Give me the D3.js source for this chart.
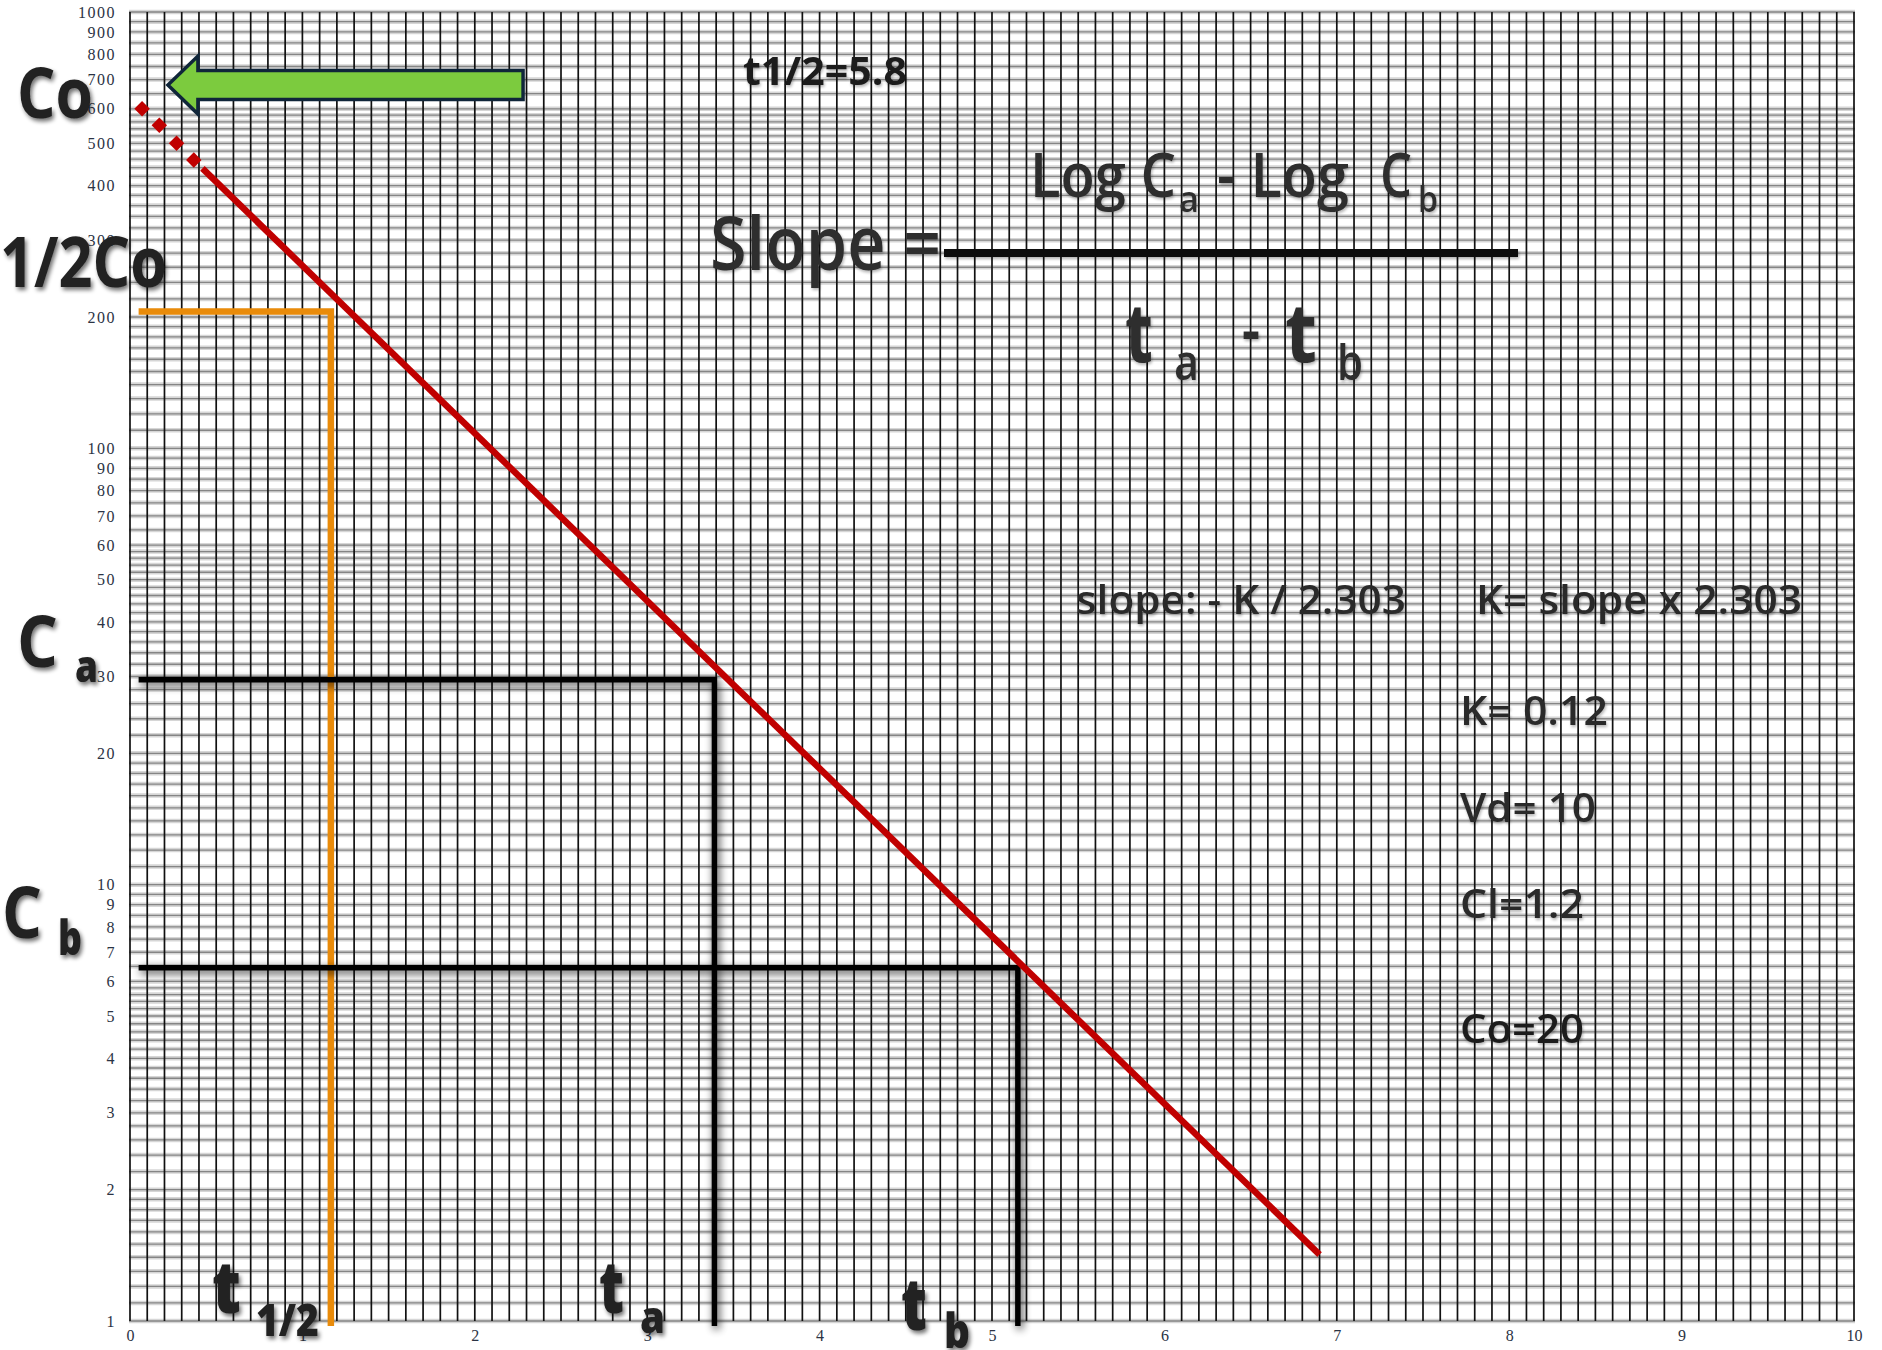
<!DOCTYPE html>
<html>
<head>
<meta charset="utf-8">
<script src="https://cdn.jsdelivr.net/npm/d3@7"></script>
<style>
  html, body { margin: 0; padding: 0; background: #fff; }
  svg { display: block; }
</style>
</head>
<body>
<svg id="chart" width="1882" height="1350"></svg>
<script>
// ---- data -------------------------------------------------------------
// time axis (h) and concentration axis (log scale) labels
const timeTicks = [0, 1, 2, 3, 4, 5, 6, 7, 8, 9, 10];
const concTicks = [1, 2, 3, 4, 5, 6, 7, 8, 9, 10, 20, 30, 40, 50, 60, 70, 80, 90,
                   100, 200, 300, 400, 500, 600, 700, 800, 900, 1000];
// rulings of the semi-log paper inside one decade
const gridMantissas = [1, 1.1, 1.2, 1.3, 1.4, 1.5, 1.6, 1.7, 1.8, 1.9,
                       2, 2.2, 2.4, 2.6, 2.8, 3, 3.2, 3.4, 3.6, 3.8,
                       4, 4.2, 4.4, 4.6, 4.8, 5, 5.2, 5.4, 5.6, 5.8,
                       6, 6.5, 7, 7.5, 8, 8.5, 9, 9.5];
const gridDecades = [1, 10, 100];
const gridTimeStep = 0.1;
// back-extrapolation towards time zero (dotted part)
const extrapTime = [0.07, 0.17, 0.27, 0.37];
const extrapConc = [600, 550, 500, 458];
// elimination line
const fitTime = [0.42, 6.9];
const fitConc = [438, 1.42];
// reading guides
const guideStartTime = 0.05;
const halfGuide = { t: 1.165, c: 206 };
const guideA = { t: 3.39, c: 29.5 };
const guideB = { t: 5.15, c: 6.45 };
// arrow pointing at Co
const arrowTip = { t: 0.22, c: 680 };
const arrowTailTime = 2.28;

// ---- layout -----------------------------------------------------------
const svg = d3.select("#chart");
const x = d3.scaleLinear().domain([0, 10]).range([130, 1854]);
const y = d3.scaleLog().domain([1, 1000]).range([1321, 12]);

const defs = svg.append("defs");
function shadowFilter(id, blur, dx, dy, alpha) {
  const f = defs.append("filter").attr("id", id)
    .attr("filterUnits", "userSpaceOnUse")
    .attr("x", 0).attr("y", 0).attr("width", 1882).attr("height", 1350);
  f.append("feGaussianBlur").attr("in", "SourceAlpha").attr("stdDeviation", blur);
  f.append("feOffset").attr("dx", dx).attr("dy", dy).attr("result", "ob");
  f.append("feComponentTransfer").append("feFuncA").attr("type", "linear").attr("slope", alpha);
  const m = f.append("feMerge");
  m.append("feMergeNode");
  m.append("feMergeNode").attr("in", "SourceGraphic");
}
shadowFilter("lineShadow", 4.5, 2, 3, 0.8);
shadowFilter("textShadow", 2.2, 2, 3, 0.55);
shadowFilter("softShadow", 1.5, 1, 2, 0.3);

// ---- grid -------------------------------------------------------------
const hValues = gridDecades.flatMap(d => gridMantissas.map(m => +(m * d).toPrecision(6)))
  .concat([1000]);
const vValues = d3.range(0, 10 + 1e-9, gridTimeStep).map(v => +v.toFixed(1));

const grid = svg.append("g");
grid.append("g").selectAll("line").data(hValues).join("line")
  .attr("x1", x(0) - 1).attr("x2", x(10) + 1)
  .attr("y1", d => y(d)).attr("y2", d => y(d))
  .attr("stroke", "#d6d6d6").attr("stroke-width", 4.5);
grid.append("g").selectAll("line").data(hValues).join("line")
  .attr("x1", x(0) - 1).attr("x2", x(10) + 1)
  .attr("y1", d => y(d)).attr("y2", d => y(d))
  .attr("stroke", "#858585").attr("stroke-width", 1.3);
grid.append("g").selectAll("line").data(vValues).join("line")
  .attr("x1", d => x(d)).attr("x2", d => x(d))
  .attr("y1", y(1000)).attr("y2", y(1))
  .attr("stroke", "#111").attr("stroke-width", 1.7);

// ---- axes -------------------------------------------------------------
const axisFont = "'Liberation Serif', 'DejaVu Serif', serif";
svg.append("g")
  .attr("transform", `translate(${x(0)},0)`)
  .call(d3.axisLeft(y).tickValues(concTicks).tickFormat(d3.format("d")).tickSize(0).tickPadding(14))
  .call(g => g.select(".domain").remove())
  .attr("font-family", axisFont).attr("font-size", 16)
  .selectAll("text").attr("fill", "#2b3344").attr("letter-spacing", "1.5px");

svg.append("g")
  .attr("transform", `translate(0,${y(1)})`)
  .call(d3.axisBottom(x).tickValues(timeTicks).tickFormat(d3.format("d")).tickSize(0).tickPadding(9))
  .call(g => g.select(".domain").remove())
  .attr("font-family", axisFont).attr("font-size", 16)
  .selectAll("text").attr("fill", "#2b3344");

// ---- reading guides ---------------------------------------------------
const guides = svg.append("g");
guides.append("path")
  .attr("d", `M${x(guideStartTime)},${y(halfGuide.c)}H${x(halfGuide.t)}V${y(1) + 5}`)
  .attr("fill", "none").attr("stroke", "#e98b0a").attr("stroke-width", 6.5);
const blackGuides = guides.append("g").attr("filter", "url(#lineShadow)");
[guideA, guideB].forEach(gd => {
  blackGuides.append("path")
    .attr("d", `M${x(guideStartTime)},${y(gd.c)}H${x(gd.t)}V${y(1) + 5}`)
    .attr("fill", "none").attr("stroke", "#050505").attr("stroke-width", 5.5);
});

// ---- elimination line -------------------------------------------------
const fit = fitTime.map((t, i) => ({ t, c: fitConc[i] }));
svg.append("path").datum(fit)
  .attr("d", d3.line().x(d => x(d.t)).y(d => y(d.c)))
  .attr("fill", "none").attr("stroke", "#c00000").attr("stroke-width", 6.5);

const extrap = extrapTime.map((t, i) => ({ t, c: extrapConc[i] }));
svg.append("g").selectAll("path").data(extrap).join("path")
  .attr("d", d3.symbol(d3.symbolSquare, 120))
  .attr("transform", d => `translate(${x(d.t)},${y(d.c)}) rotate(45)`)
  .attr("fill", "#c00000");

// ---- arrow ------------------------------------------------------------
const ax0 = x(arrowTip.t), ay = y(arrowTip.c), ax1 = x(arrowTailTime);
const headLen = 30, headHalf = 29, bodyHalf = 14.5;
svg.append("path")
  .attr("d", `M${ax0},${ay}L${ax0 + headLen},${ay - headHalf}V${ay - bodyHalf}H${ax1}` +
             `V${ay + bodyHalf}H${ax0 + headLen}V${ay + headHalf}Z`)
  .attr("fill", "#7ccb3e").attr("stroke", "#10263a").attr("stroke-width", 3.5)
  .attr("stroke-linejoin", "miter");

// ---- text -------------------------------------------------------------
const sans = "'Open Sans', 'Noto Sans', sans-serif";
function label(parent, str, px, py, size, weight, width, opts = {}) {
  const t = parent.append("text")
    .attr("x", px).attr("y", py)
    .attr("font-family", sans).attr("font-size", size).attr("font-weight", weight)
    .attr("fill", opts.fill || "#232323")
    .attr("xml:space", "preserve")
    .text(str);
  if (width) t.attr("textLength", width).attr("lengthAdjust", "spacingAndGlyphs");
  return t;
}

const big = svg.append("g").attr("filter", "url(#textShadow)");
label(big, "Co", 17, 118, 70, 700, 76);
label(big, "1/2Co", 0, 287, 70, 700, 167);
label(big, "C", 17, 667, 72, 700, 41);
label(big, "a", 75, 682, 44, 800, 23);
label(big, "C", 2, 938, 72, 700, 40);
label(big, "b", 58, 955, 48, 800, 24);
label(big, "t", 212, 1313, 72, 800, 29);
label(big, "1/2", 256, 1336, 44, 800, 63);
label(big, "t", 599, 1313, 72, 800, 25);
label(big, "a", 640, 1333, 44, 800, 25);
label(big, "t", 901, 1330, 72, 800, 26);
label(big, "b", 944, 1348, 48, 800, 26);

const formula = svg.append("g").attr("filter", "url(#softShadow)");
label(formula, "t1/2=5.8", 743, 85, 40, 700, 164, { fill: "#1a1a1a" });
label(formula, "Slope =", 710, 270, 74, 600, 231, { fill: "#2e2e2e" });
formula.append("line")
  .attr("x1", 944).attr("x2", 1518).attr("y1", 253).attr("y2", 253)
  .attr("stroke", "#111").attr("stroke-width", 8);
label(formula, "Log C", 1030, 197, 62, 600, 146, { fill: "#2e2e2e" });
label(formula, "a", 1179, 212, 36, 600, 20, { fill: "#2e2e2e" });
label(formula, "- Log", 1217, 197, 62, 600, 132, { fill: "#2e2e2e" });
label(formula, "C", 1380, 197, 62, 600, 32, { fill: "#2e2e2e" });
label(formula, "b", 1418, 212, 36, 600, 20, { fill: "#2e2e2e" });
label(formula, "t", 1125, 362, 82, 700, 28, { fill: "#2e2e2e" });
label(formula, "a", 1174, 380, 48, 600, 25, { fill: "#2e2e2e" });
label(formula, "-", 1242, 352, 60, 700, 18, { fill: "#2e2e2e" });
label(formula, "t", 1285, 362, 82, 700, 32, { fill: "#2e2e2e" });
label(formula, "b", 1337, 380, 48, 600, 26, { fill: "#2e2e2e" });

label(formula, "slope: - K / 2.303", 1076, 614, 40, 600, 330, { fill: "#2a2a2a" });
label(formula, "K= slope x 2.303", 1476, 614, 40, 600, 326, { fill: "#2a2a2a" });
label(formula, "K= 0.12", 1460, 725, 40, 600, 148, { fill: "#2a2a2a" });
label(formula, "Vd= 10", 1460, 822, 40, 600, 136, { fill: "#2a2a2a" });
label(formula, "Cl=1.2", 1460, 918, 40, 600, 124, { fill: "#2a2a2a" });
label(formula, "Co=20", 1460, 1043, 40, 600, 124, { fill: "#1e1e1e" });
</script>
</body>
</html>
